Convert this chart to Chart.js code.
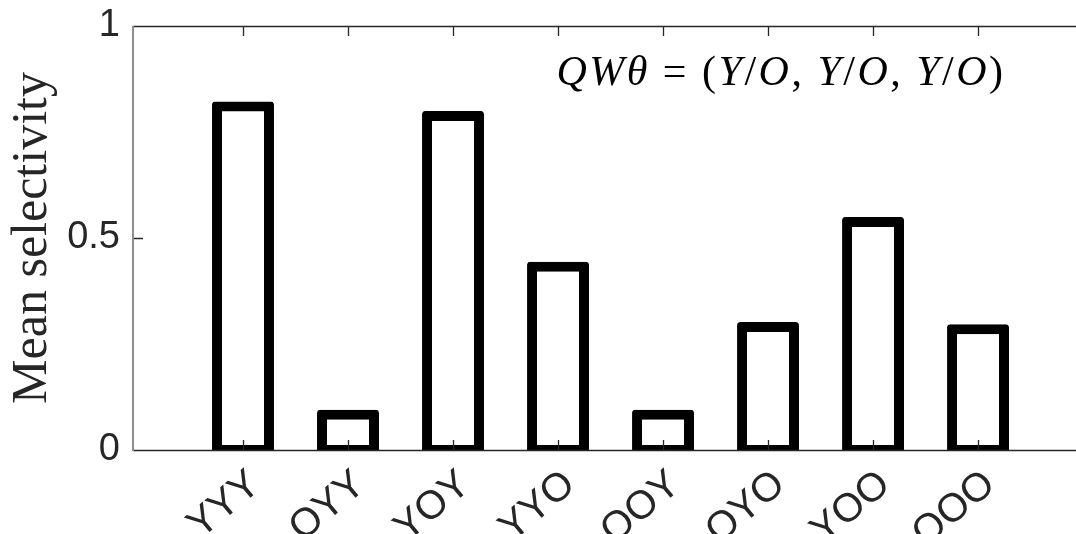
<!DOCTYPE html>
<html>
<head>
<meta charset="utf-8">
<script src="https://cdn.jsdelivr.net/npm/chart.js@4.4.1/dist/chart.umd.min.js"></script>
<style>
  html, body { margin: 0; padding: 0; background: #fff; }
  #wrap { width: 1076px; height: 534px; }
</style>
</head>
<body>
<div id="wrap"><canvas id="chart" width="1076" height="534"></canvas></div>
<script>
// ── data ────────────────────────────────────────────────────────────────
const categories  = ["YYY", "OYY", "YOY", "YYO", "OOY", "OYO", "YOO", "OOO"];
const selectivity = [0.81, 0.083, 0.788, 0.432, 0.083, 0.29, 0.538, 0.285];
const yTicks      = [0, 0.5, 1];
const yTickLabels = ["0", "0.5", "1"];
const yTitle      = "Mean selectivity";
// QWθ = (Y/O, Y/O, Y/O), split into italic / upright runs
const formula = [
  ["QWθ", true], [" = (", false],
  ["Y", true], ["/", false], ["O", true], [", ", false],
  ["Y", true], ["/", false], ["O", true], [", ", false],
  ["Y", true], ["/", false], ["O", true], [")", false],
];

// ── style ───────────────────────────────────────────────────────────────
const AXIS = "#262626";
const SANS = "'Liberation Sans', Arial, sans-serif";
const SERIF = "'Liberation Serif', 'DejaVu Serif', serif";
const EDGE = 10;          // bar outline width (px)
const HALF = 0.0118;      // half the outline, in y units, so the stroke sits centred on the value

// axis frame + inward ticks, drawn on top of the bars like the original
const frame = {
  id: "frame",
  afterDatasetsDraw(chart) {
    const { ctx, chartArea: a, scales: { x, y } } = chart;
    ctx.save();
    ctx.lineWidth = 1.3;
    ctx.strokeStyle = AXIS;
    ctx.beginPath();
    ctx.moveTo(a.left, a.top + 0.5);    ctx.lineTo(a.right, a.top + 0.5);
    ctx.moveTo(a.left, a.bottom + 0.5); ctx.lineTo(a.right, a.bottom + 0.5);
    for (let i = 0; i < categories.length; i++) {
      const px = Math.round(x.getPixelForValue(i + 1)) + 0.5;
      ctx.moveTo(px, a.bottom); ctx.lineTo(px, a.bottom - 10);
      ctx.moveTo(px, a.top);    ctx.lineTo(px, a.top + 10);
    }
    for (const v of yTicks) {
      const py = Math.round(y.getPixelForValue(v)) + 0.5;
      ctx.moveTo(a.left, py); ctx.lineTo(a.left + 10, py);
    }
    ctx.stroke();
    ctx.strokeStyle = "#8f8f8f";
    ctx.lineWidth = 2;
    ctx.beginPath();
    ctx.moveTo(a.left, a.top); ctx.lineTo(a.left, a.bottom + 1);
    ctx.stroke();
    ctx.restore();
  },
  afterDraw(chart) {
    const { ctx } = chart;
    ctx.save();
    ctx.fillStyle = "#000";
    ctx.textBaseline = "alphabetic";
    ctx.letterSpacing = "2.5px";
    const font = it => `${it ? "italic " : ""}42px ${SERIF}`;
    let total = 0;
    for (const [t, it] of formula) { ctx.font = font(it); total += ctx.measureText(t).width; }
    let cx = 781 - total / 2;
    for (const [t, it] of formula) {
      ctx.font = font(it);
      ctx.fillText(t, cx, 85);
      cx += ctx.measureText(t).width;
    }
    ctx.restore();
  },
};

new Chart(document.getElementById("chart").getContext("2d"), {
  type: "bar",
  data: {
    datasets: [{
      data: selectivity.map((v, i) => ({ x: i + 1, y: [-HALF, v + HALF] })),
      backgroundColor: "#ffffff",
      borderColor: "#000000",
      borderWidth: EDGE,
      borderSkipped: false,
      borderRadius: 3,
      barPercentage: 0.59,
      categoryPercentage: 1,
    }],
  },
  options: {
    responsive: false,
    animation: false,
    layout: { padding: { top: 26, left: 0, right: 0, bottom: 0 } },
    plugins: { legend: { display: false }, tooltip: { enabled: false } },
    scales: {
      x: {
        type: "linear",
        offset: false,
        min: -0.0476,
        max: 8.933,
        afterFit: s => { s.height = 84; s.paddingLeft = 0; s.paddingRight = 0; },
        afterBuildTicks: s => { s.ticks = categories.map((c, i) => ({ value: i + 1 })); },
        grid: { display: false, drawTicks: false },
        border: { display: false },
        ticks: {
          autoSkip: false,
          minRotation: 40,
          maxRotation: 40,
          padding: 11,
          labelOffset: 12,
          color: AXIS,
          font: { family: SANS, size: 40 },
          callback: v => categories[v - 1] ?? "",
        },
      },
      y: {
        min: 0,
        max: 1,
        afterFit: s => { s.width = 133; s.paddingTop = 0; s.paddingBottom = 0; },
        afterBuildTicks: s => { s.ticks = yTicks.map(v => ({ value: v })); },
        grid: { display: false, drawTicks: false },
        border: { display: false },
        ticks: {
          padding: 13,
          color: AXIS,
          font: { family: SANS, size: 38 },
          callback: v => yTickLabels[yTicks.indexOf(v)] ?? "",
        },
        title: {
          display: true,
          text: yTitle,
          color: AXIS,
          padding: { top: 3, bottom: 0 },
          font: { family: SERIF, size: 50, weight: "normal" },
        },
      },
    },
  },
  plugins: [frame],
});
</script>
</body>
</html>
